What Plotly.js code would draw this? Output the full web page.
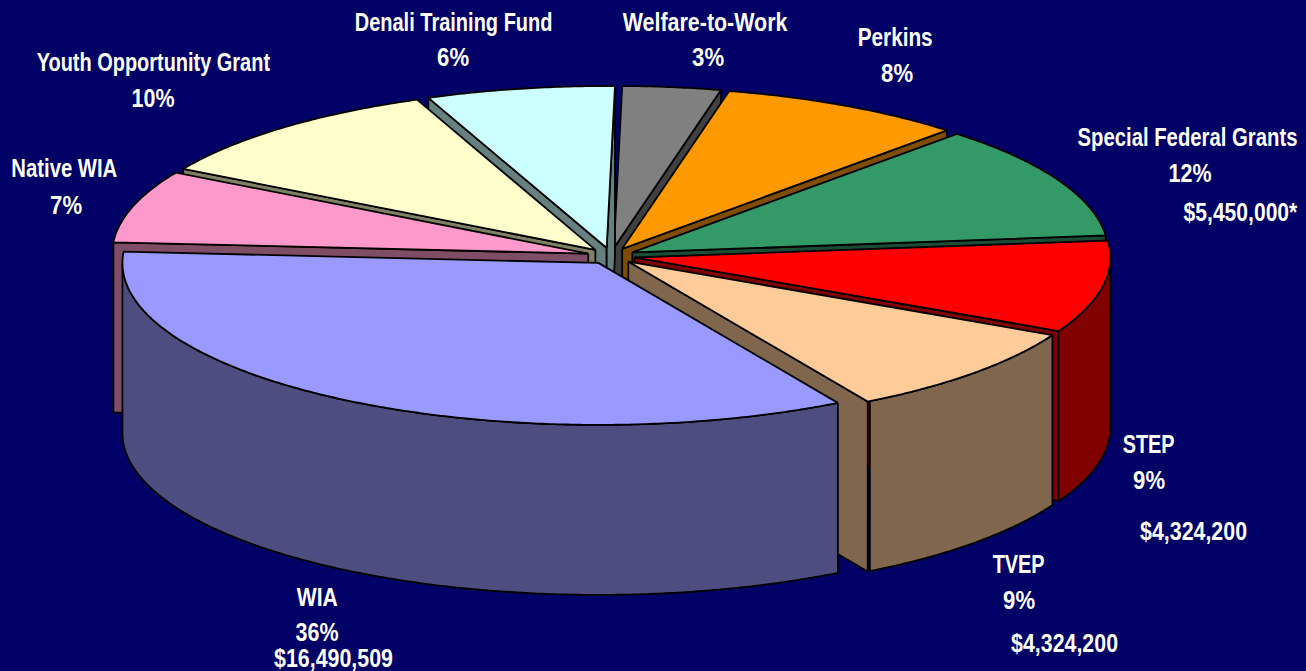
<!DOCTYPE html>
<html><head><meta charset="utf-8">
<script src="https://cdn.plot.ly/plotly-3.0.1.min.js"></script>
<style>html,body{margin:0;padding:0;background:#000066}#c{width:1306px;height:671px}</style>
</head><body><div id="c"></div>
<script>
// Data, clockwise from the Special Federal Grants / STEP boundary
const categories = ['STEP','TVEP','WIA','Native WIA','Youth Opportunity Grant','Denali Training Fund','Welfare-to-Work','Perkins','Special Federal Grants'];
const sharePercent = [9,9,36,7,10,6,3,8,12];
const dollarLabels = ['$4,324,200','$4,324,200','$16,490,509','','','','','','$5,450,000*'];
// Apparent sweep of each slice (degrees on the tilted disc)
const sweepDegrees = [33,32.8,124.2,26,38,23,12,30,41];

// Styles
const topColors  = ['#ff0000','#ffcc99','#9999ff','#ff99cc','#ffffcc','#ccffff','#808080','#ff9900','#339966'];
const sideColors = ['#800000','#80664d','#4d4d80','#804d66','#808066','#668080','#404040','#804d00','#1a4d33'];

// Geometry of the projected pie
const G = {cx:611, cy:256, rx:476, ry:162, depth:170, explode:0.05, startDeg:6};
const rad = d => d*Math.PI/180;

// Label placement: [x, y, width] for name, percent, dollars
const labelPlaces = [
  [[1148,444,52],[1149,480,32],[1193,531,107]],
  [[1018,564,52],[1019,600,32],[1064,643,107]],
  [[317,597,41],[317,632,43],[333,658,119]],
  [[64,168,106],[66,205,32]],
  [[153,62,234],[153,98,43]],
  [[453,22,198],[453,57,32]],
  [[705,22,165],[708,57,32]],
  [[895,37,75],[897,73,32]],
  [[1187,137,220],[1190,173,43],[1240,212,114]]
];

let a = G.startDeg;
const slices = categories.map((name,i)=>{
  const t0=a, t1=a-sweepDegrees[i]; a=t1;
  const mid=(t0+t1)/2;
  const ox=G.cx+G.explode*G.rx*Math.cos(rad(mid));
  const oy=G.cy-G.explode*G.ry*Math.sin(rad(mid));
  return {name,i,t0,t1,mid,ox,oy};
});
const rim=(s,t)=>[s.ox+G.rx*Math.cos(rad(t)), s.oy-G.ry*Math.sin(rad(t))];
function poly(pts,fill,name){
  const c=pts.concat([pts[0]]);
  return {type:'scatter',mode:'lines',x:c.map(p=>p[0]),y:c.map(p=>p[1]),fill:'toself',fillcolor:fill,
    line:{color:'#000000',width:1.8,simplify:false},hoverinfo:'name',name,showlegend:false};
}
const traces=[];
slices.slice().sort((p,q)=>Math.sin(rad(q.mid))-Math.sin(rad(p.mid))).forEach(s=>{
  const top=topColors[s.i], side=sideColors[s.i];
  const face=t=>{const r=rim(s,t);return [[s.ox,s.oy],r,[r[0],r[1]+G.depth],[s.ox,s.oy+G.depth]];};
  if(Math.cos(rad(s.t0))<0) traces.push(poly(face(s.t0),side,s.name));
  if(Math.cos(rad(s.t1))>0) traces.push(poly(face(s.t1),side,s.name));
  const arc=[];
  for(let t=s.t0;t>=s.t1-1e-6;t-=0.5){ if(Math.sin(rad(t))<=0) arc.push(rim(s,t)); }
  if(arc.length>1){
    const low=arc.map(p=>[p[0],p[1]+G.depth]).reverse();
    traces.push(poly(arc.concat(low),side,s.name));
  }
  const pts=[[s.ox,s.oy]];
  for(let t=s.t0;t>s.t1;t-=0.5) pts.push(rim(s,t));
  pts.push(rim(s,s.t1));
  traces.push(poly(pts,top,s.name));
});

const annotations=[], widths=[];
categories.forEach((name,i)=>{
  const texts=[name,sharePercent[i]+'%',dollarLabels[i]];
  labelPlaces[i].forEach((p,k)=>{
    widths.push(p[2]);
    annotations.push({x:p[0],y:p[1],xref:'x',yref:'y',text:texts[k],showarrow:false,xanchor:'center',yanchor:'middle',
      font:{family:'"Liberation Sans",Arial,sans-serif',size:25,color:'#ffffff',weight:700}});
  });
});

Plotly.newPlot('c',traces,{
  width:1306,height:671,margin:{l:0,r:0,t:0,b:0},
  paper_bgcolor:'#000066',plot_bgcolor:'#000066',showlegend:false,
  xaxis:{range:[0,1306],visible:false,fixedrange:true},
  yaxis:{range:[671,0],visible:false,fixedrange:true},
  annotations
},{displayModeBar:false,staticPlot:true}).then(gd=>{
  // the reference lettering is condensed: keep real text, squeeze it horizontally to the read widths
  gd.querySelectorAll('.annotation-text').forEach((el,i)=>{
    const b=el.getBBox(), c=b.x+b.width/2, k=widths[i]/b.width;
    el.setAttribute('transform','translate('+c+' 0) scale('+k+' 1) translate('+(-c)+' 0)');
  });
});
</script></body></html>
